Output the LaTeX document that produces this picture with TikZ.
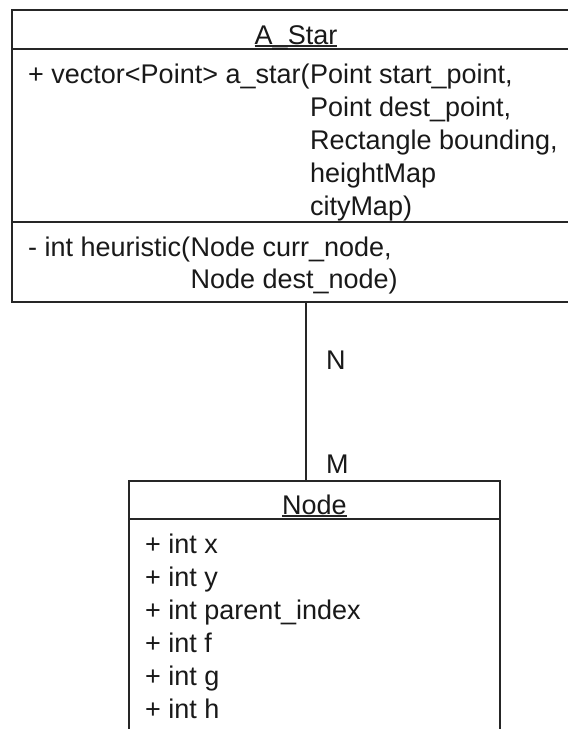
\documentclass[tikz,border=0pt]{standalone}
\usepackage{fontspec}
\setmainfont{Liberation Sans}
\usetikzlibrary{calc}
\begin{document}
\begin{tikzpicture}[x=1pt,y=-1pt,
  box/.style={draw=black!85, line width=1.4pt, rectangle, inner sep=0pt, fill=white},
  sep/.style={draw=black!85, line width=1.4pt},
  txt/.style={inner sep=0pt, anchor=base west, text=black!90, font=\fontsize{27}{33}\selectfont},
  ttl/.style={inner sep=0pt, anchor=base, text=black!90, font=\fontsize{27}{33}\selectfont},
  uline/.style={draw=black!85, line width=1.1pt}]
\useasboundingbox (0,0) rectangle (568,729);
\clip (0,0) rectangle (568,729);
\fill[white] (0,0) rectangle (568,729);

% ---- A_Star class ----
\node[box, minimum width=568pt, minimum height=292pt] (astar) at (296,156) {};
\draw[sep] (12,49) -- (580,49);
\draw[sep] (12,222) -- (580,222);
\node[ttl] (astartitle) at (296,44) {A\_Star};
\draw[uline] ([yshift=-2pt]astartitle.base west) -- ([yshift=-2pt]astartitle.base east);

\node[txt] (m1a) at (28,83) {+ vector<Point> a\_star(};
\node[txt] (m1b) at (m1a.base east) {Point start\_point,};
\node[txt] (m2) at ($(m1b.base west)+(0,33)$) {Point dest\_point,};
\node[txt] (m3) at ($(m1b.base west)+(0,66)$) {Rectangle bounding,};
\node[txt] (m4) at ($(m1b.base west)+(0,99)$) {heightMap};
\node[txt] (m5) at ($(m1b.base west)+(0,132)$) {cityMap)};

\node[txt] (h1a) at (28,256) {- int heuristic(};
\node[txt] (h1b) at (h1a.base east) {Node curr\_node,};
\node[txt] (h2) at ($(h1b.base west)+(0,32)$) {Node dest\_node)};

% ---- Node class ----
\node[box, minimum width=371pt, minimum height=300pt] (nodebox) at (314.5,631) {};
\draw[sep] (129,519) -- (500,519);
\node[ttl] (nodetitle) at (314.5,514) {Node};
\draw[uline] ([yshift=-2pt]nodetitle.base west) -- ([yshift=-2pt]nodetitle.base east);

\node[txt] (a1) at (145,553) {+ int x};
\node[txt] (a2) at (145,586) {+ int y};
\node[txt] (a3) at (145,619) {+ int parent\_index};
\node[txt] (a4) at (145,652) {+ int f};
\node[txt] (a5) at (145,685) {+ int g};
\node[txt] (a6) at (145,718) {+ int h};

% ---- association ----
\coordinate (cx) at (306,0);
\draw[sep] (cx |- astar.south) -- (cx |- nodebox.north);
\node[txt] (lblN) at (326,369) {N};
\node[txt] (lblM) at (326,473) {M};
\end{tikzpicture}
\end{document}
